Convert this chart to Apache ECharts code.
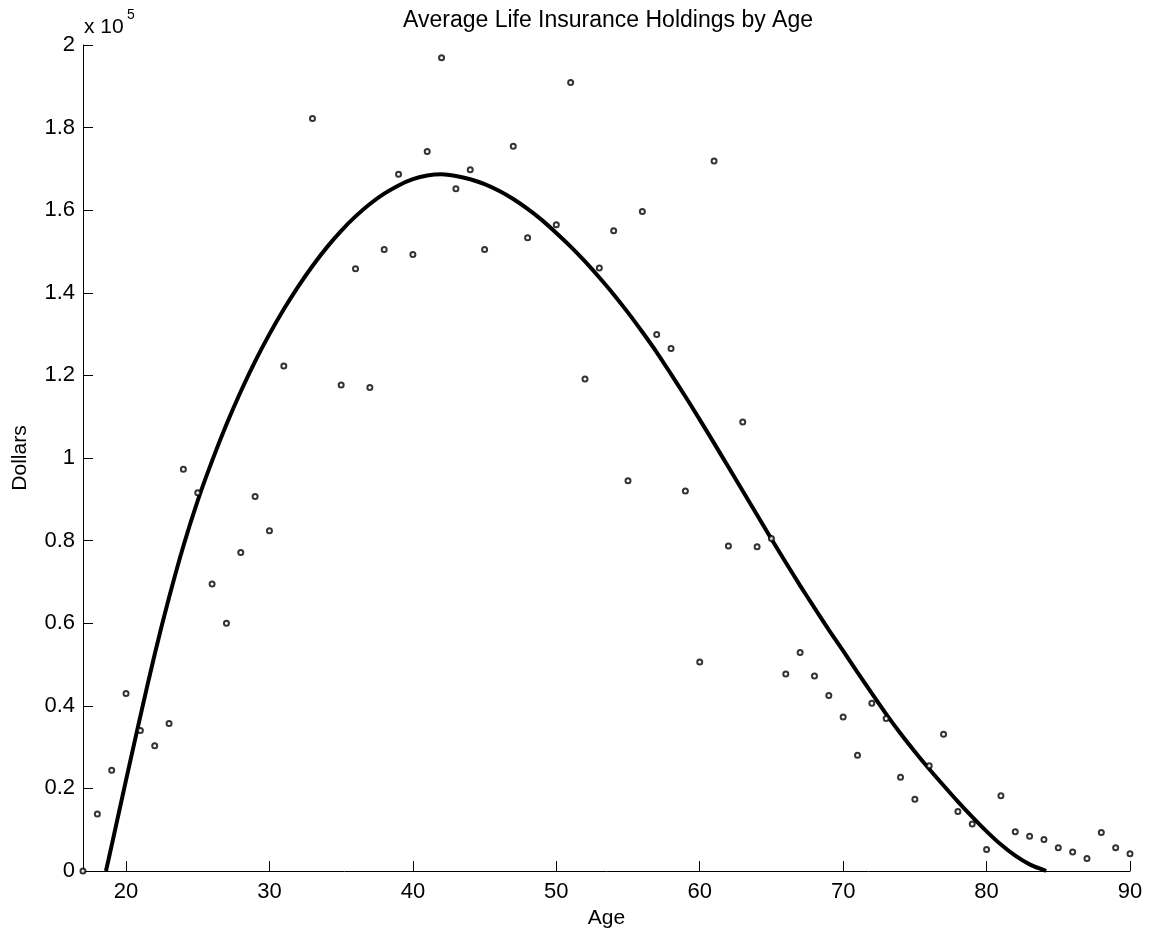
<!DOCTYPE html>
<html><head><meta charset="utf-8">
<script src="https://cdn.jsdelivr.net/npm/echarts@6/dist/echarts.min.js"></script>
<style>html,body{margin:0;padding:0;background:#fff}#chart{width:1159px;height:940px}</style>
</head><body><div id="chart"></div>
<script>
// Observed data: age (years) and average life insurance holdings (dollars)
const ages = [17,18,19,20,21,22,23,24,25,26,27,28,29,30,31,33,35,36,37,38,39,40,41,42,43,44,45,47,48,50,51,52,53,54,55,56,57,58,59,60,61,62,63,64,65,66,67,68,69,70,71,72,73,74,75,76,77,78,79,80,81,82,83,84,85,86,87,88,89,90];
const holdings = [0,13800,24400,43000,34000,30300,35700,97300,91600,69500,60000,77100,90700,82400,122300,182200,117700,145800,117100,150500,168700,149300,174200,196900,165200,169800,150500,175500,153300,156500,190900,119100,146000,155000,94500,159700,129900,126500,92000,50600,171900,78700,108700,78500,80500,47700,52900,47200,42500,37300,28000,40600,36900,22700,17400,25500,33100,14400,11400,5200,18200,9500,8400,7600,5600,4600,3000,9300,5600,4200];

// Fitted curve
const fitAges = [18.6,19,20,21,22,23,24,25,26,27,28,29,30,31,32,33,34,35,36,37,38,39,40,41,42,43,44,45,46,47,48,49,50,51,52,53,54,55,56,57,58,59,60,61,62,63,64,65,66,67,68,69,70,71,72,73,74,75,76,77,78,79,80,81,82,83,84,84.15];
const fitValues = [0,6200,22000,37500,52500,66200,78700,89700,99300,108100,116100,123400,130000,136000,141500,146500,151000,155000,158500,161500,164000,166000,167500,168400,168700,168300,167500,166300,164700,162700,160300,157600,154500,151200,147600,143700,139600,135200,130500,125600,120300,114900,109300,103600,97800,92000,86200,80400,74700,69100,63700,58400,53300,48100,43000,38000,33300,28900,24700,20700,16800,13100,9600,6400,3700,1600,200,0];

const xTickValues = [20,30,40,50,60,70,80,90];
const titleText = 'Average Life Insurance Holdings by Age';
const xName = 'Age';
const yName = 'Dollars';

const FONT = "'Liberation Sans', Arial, Helvetica, sans-serif";
const chart = echarts.init(document.getElementById('chart'), null, {renderer: 'canvas'});

const scatterData = ages.map((a, i) => [a, holdings[i]]);
const fitData = fitAges.map((a, i) => [a, fitValues[i]]);

chart.setOption({
  backgroundColor: '#fff',
  animation: false,
  grid: {left: 83, right: 29, top: 45, bottom: 69},
  graphic: [
    {type: 'text', x: 608, y: 21, style: {text: titleText, fill: '#000', font: '23px ' + FONT, textAlign: 'center', textVerticalAlign: 'middle'}},
    {type: 'text', x: 84, y: 27, style: {text: 'x 10', fill: '#000', font: '21px ' + FONT, textAlign: 'left', textVerticalAlign: 'middle'}},
    {type: 'text', x: 127, y: 15, style: {text: '5', fill: '#000', font: '14px ' + FONT, textAlign: 'left', textVerticalAlign: 'middle'}}
  ],
  xAxis: {
    type: 'value', min: 17, max: 90,
    name: xName, nameLocation: 'middle', nameGap: 35,
    nameTextStyle: {color: '#000', fontSize: 21, fontFamily: FONT},
    splitLine: {show: false},
    axisLine: {show: true, onZero: false, lineStyle: {color: '#000', width: 1}},
    axisTick: {show: true, inside: true, length: 10, customValues: xTickValues, lineStyle: {color: '#000'}},
    axisLabel: {customValues: xTickValues, color: '#000', fontSize: 22, fontFamily: FONT, margin: 10}
  },
  yAxis: {
    type: 'value', min: 0, max: 200000, interval: 20000,
    name: yName, nameLocation: 'middle', nameGap: 52, nameRotate: 90,
    nameTextStyle: {color: '#000', fontSize: 21, fontFamily: FONT},
    splitLine: {show: false},
    axisLine: {show: true, lineStyle: {color: '#000', width: 1}},
    axisTick: {show: true, inside: true, length: 10, lineStyle: {color: '#000'}},
    axisLabel: {color: '#000', fontSize: 22, fontFamily: FONT, margin: 8,
      formatter: v => String(+(v / 1e5).toFixed(1))}
  },
  series: [
    {
      type: 'line', data: fitData, smooth: 0.3, showSymbol: false, symbol: 'none',
      lineStyle: {color: '#000', width: 4}, z: 2
    },
    {
      type: 'scatter', data: scatterData, symbol: 'emptyCircle', symbolSize: 5,
      itemStyle: {color: '#000', borderColor: '#000', borderWidth: 1}, clip: false, z: 3
    }
  ]
});
</script>
</body></html>
